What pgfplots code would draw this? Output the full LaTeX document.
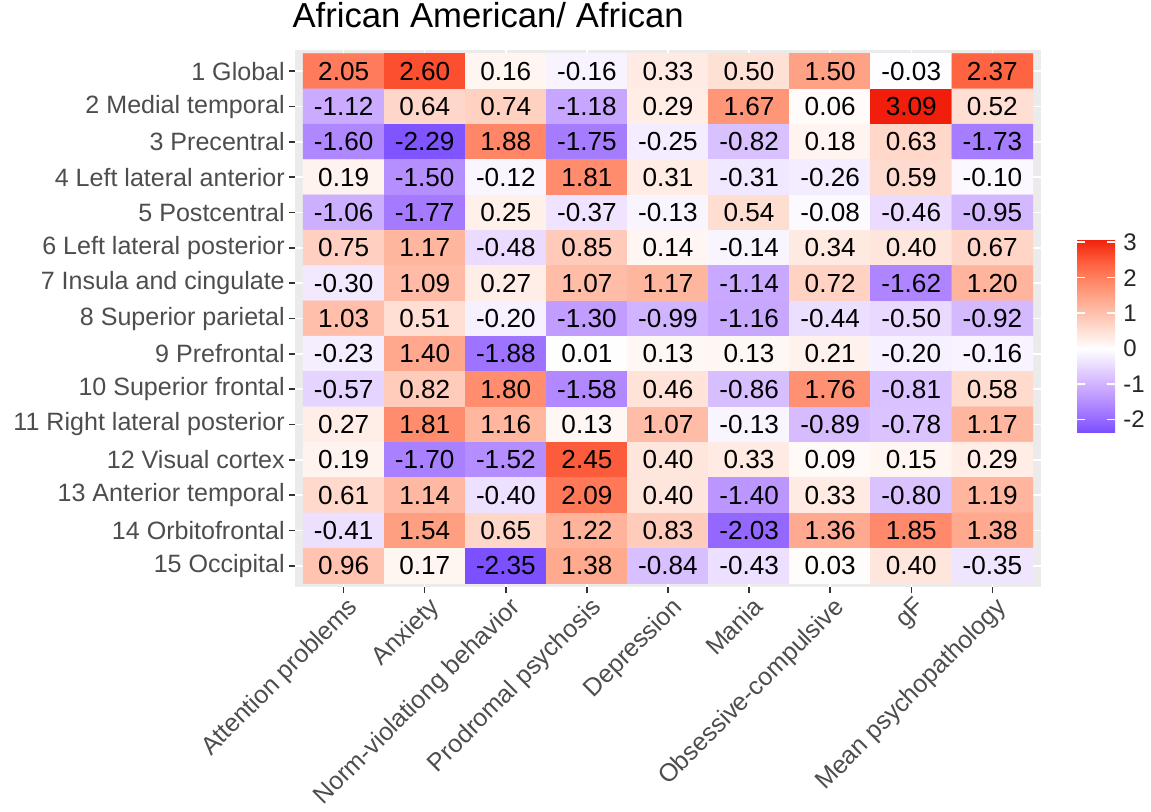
\documentclass[border=0pt]{standalone}
\usepackage{pgfplots}
\usepackage{pgfplotstable}
\pgfplotsset{compat=1.18}
\usepackage{fontspec}
\setmainfont{Liberation Sans}

\definecolor{axtext}{HTML}{4D4D4D}
\definecolor{panelbg}{HTML}{EBEBEB}
\definecolor{tickcol}{HTML}{333333}

% effect sizes: column (phenotype), row (brain network), value
\pgfplotstableread{
x y z
1 1 2.05
2 1 2.60
3 1 0.16
4 1 -0.16
5 1 0.33
6 1 0.50
7 1 1.50
8 1 -0.03
9 1 2.37
1 2 -1.12
2 2 0.64
3 2 0.74
4 2 -1.18
5 2 0.29
6 2 1.67
7 2 0.06
8 2 3.09
9 2 0.52
1 3 -1.60
2 3 -2.29
3 3 1.88
4 3 -1.75
5 3 -0.25
6 3 -0.82
7 3 0.18
8 3 0.63
9 3 -1.73
1 4 0.19
2 4 -1.50
3 4 -0.12
4 4 1.81
5 4 0.31
6 4 -0.31
7 4 -0.26
8 4 0.59
9 4 -0.10
1 5 -1.06
2 5 -1.77
3 5 0.25
4 5 -0.37
5 5 -0.13
6 5 0.54
7 5 -0.08
8 5 -0.46
9 5 -0.95
1 6 0.75
2 6 1.17
3 6 -0.48
4 6 0.85
5 6 0.14
6 6 -0.14
7 6 0.34
8 6 0.40
9 6 0.67
1 7 -0.30
2 7 1.09
3 7 0.27
4 7 1.07
5 7 1.17
6 7 -1.14
7 7 0.72
8 7 -1.62
9 7 1.20
1 8 1.03
2 8 0.51
3 8 -0.20
4 8 -1.30
5 8 -0.99
6 8 -1.16
7 8 -0.44
8 8 -0.50
9 8 -0.92
1 9 -0.23
2 9 1.40
3 9 -1.88
4 9 0.01
5 9 0.13
6 9 0.13
7 9 0.21
8 9 -0.20
9 9 -0.16
1 10 -0.57
2 10 0.82
3 10 1.80
4 10 -1.58
5 10 0.46
6 10 -0.86
7 10 1.76
8 10 -0.81
9 10 0.58
1 11 0.27
2 11 1.81
3 11 1.16
4 11 0.13
5 11 1.07
6 11 -0.13
7 11 -0.89
8 11 -0.78
9 11 1.17
1 12 0.19
2 12 -1.70
3 12 -1.52
4 12 2.45
5 12 0.40
6 12 0.33
7 12 0.09
8 12 0.15
9 12 0.29
1 13 0.61
2 13 1.14
3 13 -0.40
4 13 2.09
5 13 0.40
6 13 -1.40
7 13 0.33
8 13 -0.80
9 13 1.19
1 14 -0.41
2 14 1.54
3 14 0.65
4 14 1.22
5 14 0.83
6 14 -2.03
7 14 1.36
8 14 1.85
9 14 1.38
1 15 0.96
2 15 0.17
3 15 -2.35
4 15 1.38
5 15 -0.84
6 15 -0.43
7 15 0.03
8 15 0.40
9 15 -0.35
}\heat

\begin{document}
\begin{tikzpicture}
\path[use as bounding box] (0,0) rectangle (863.25pt,-608.25pt);
\begin{axis}[
  at={(221.25pt,-440.25pt)}, anchor=south west,
  scale only axis, width=559.5pt, height=402.75pt,
  xmin=0.4, xmax=9.6, ymin=0.4, ymax=15.6, y dir=reverse,
  axis background/.style={fill=panelbg},
  axis line style={draw=none},
  xtick={1,...,9}, ytick={1,...,15},
  xticklabels={Attention problems, Anxiety, Norm-violationg behavior,
    Prodromal psychosis, Depression, Mania, Obsessive-compulsive, gF,
    Mean psychopathology},
  yticklabels={1 Global, 2 Medial temporal, 3 Precentral,
    4 Left lateral anterior, 5 Postcentral, 6 Left lateral posterior,
    7 Insula and cingulate, 8 Superior parietal, 9 Prefrontal,
    10 Superior frontal, 11 Right lateral posterior, 12 Visual cortex,
    13 Anterior temporal, 14 Orbitofrontal, 15 Occipital},
  tick pos=left, tick align=outside, major tick length=4.5pt,
  tick style={tickcol, line width=1.1pt},
  grid=major, major grid style={white, line width=1.1pt},
  tick label style={font=\fontsize{18.8}{22}\selectfont, text=axtext},
  yticklabel style={inner sep=0pt, xshift=-3pt},
  xticklabel style={rotate=45, anchor=north east, inner sep=0pt, yshift=-2.5pt},
  title={African American/ African},
  title style={at={(0,1)}, anchor=base west, inner sep=0pt,
    font=\fontsize{26}{30}\selectfont, yshift=11.25pt, xshift=-2pt},
  colormap={gg}{
    rgb255(0)=(124,79,255) rgb255(42)=(155,111,255) rgb255(81)=(179,139,255)
    rgb255(119)=(200,168,255) rgb255(158)=(220,196,255) rgb255(196)=(238,226,255)
    rgb255(235)=(255,255,255) rgb255(274)=(255,231,222) rgb255(312)=(255,207,191)
    rgb255(351)=(255,183,160) rgb255(390)=(255,158,129) rgb255(428)=(255,132,100)
    rgb255(467)=(255,104,70) rgb255(505)=(250,70,40) rgb255(544)=(240,30,10)},
  point meta min=-2.35, point meta max=3.09,
  colorbar,
  colorbar/width=28.5pt,
  colorbar style={
    at={(parent axis.north east)}, anchor=north west,
    xshift=18.5pt, yshift=-141.75pt,
    scale only axis, height=144.75pt,
    axis line style={draw=none}, axis on top,
    ytick={-2,-1,0,1,2,3}, ytick pos=both, yticklabel pos=right,
    tick align=inside, major tick length=5.7pt,
    tick style={white, line width=1.1pt},
    yticklabel shift=5pt,
    yticklabel style={font=\fontsize{18}{20}\selectfont, text=black!85,
      /pgf/number format/assume math mode=true, inner sep=1pt},
  },
]
\addplot[matrix plot*, mesh/cols=9, point meta=explicit]
  table[x=x, y=y, meta=z] {\heat};
\addplot[draw=none, mark=none, nodes near coords,
  nodes near coords align={center},
  point meta=explicit symbolic,
  every node near coord/.append style={font=\fontsize{19.6}{22}\selectfont,
    text=black, anchor=center}]
  table[x=x, y=y, meta=z] {\heat};
\end{axis}
\end{tikzpicture}
\end{document}
